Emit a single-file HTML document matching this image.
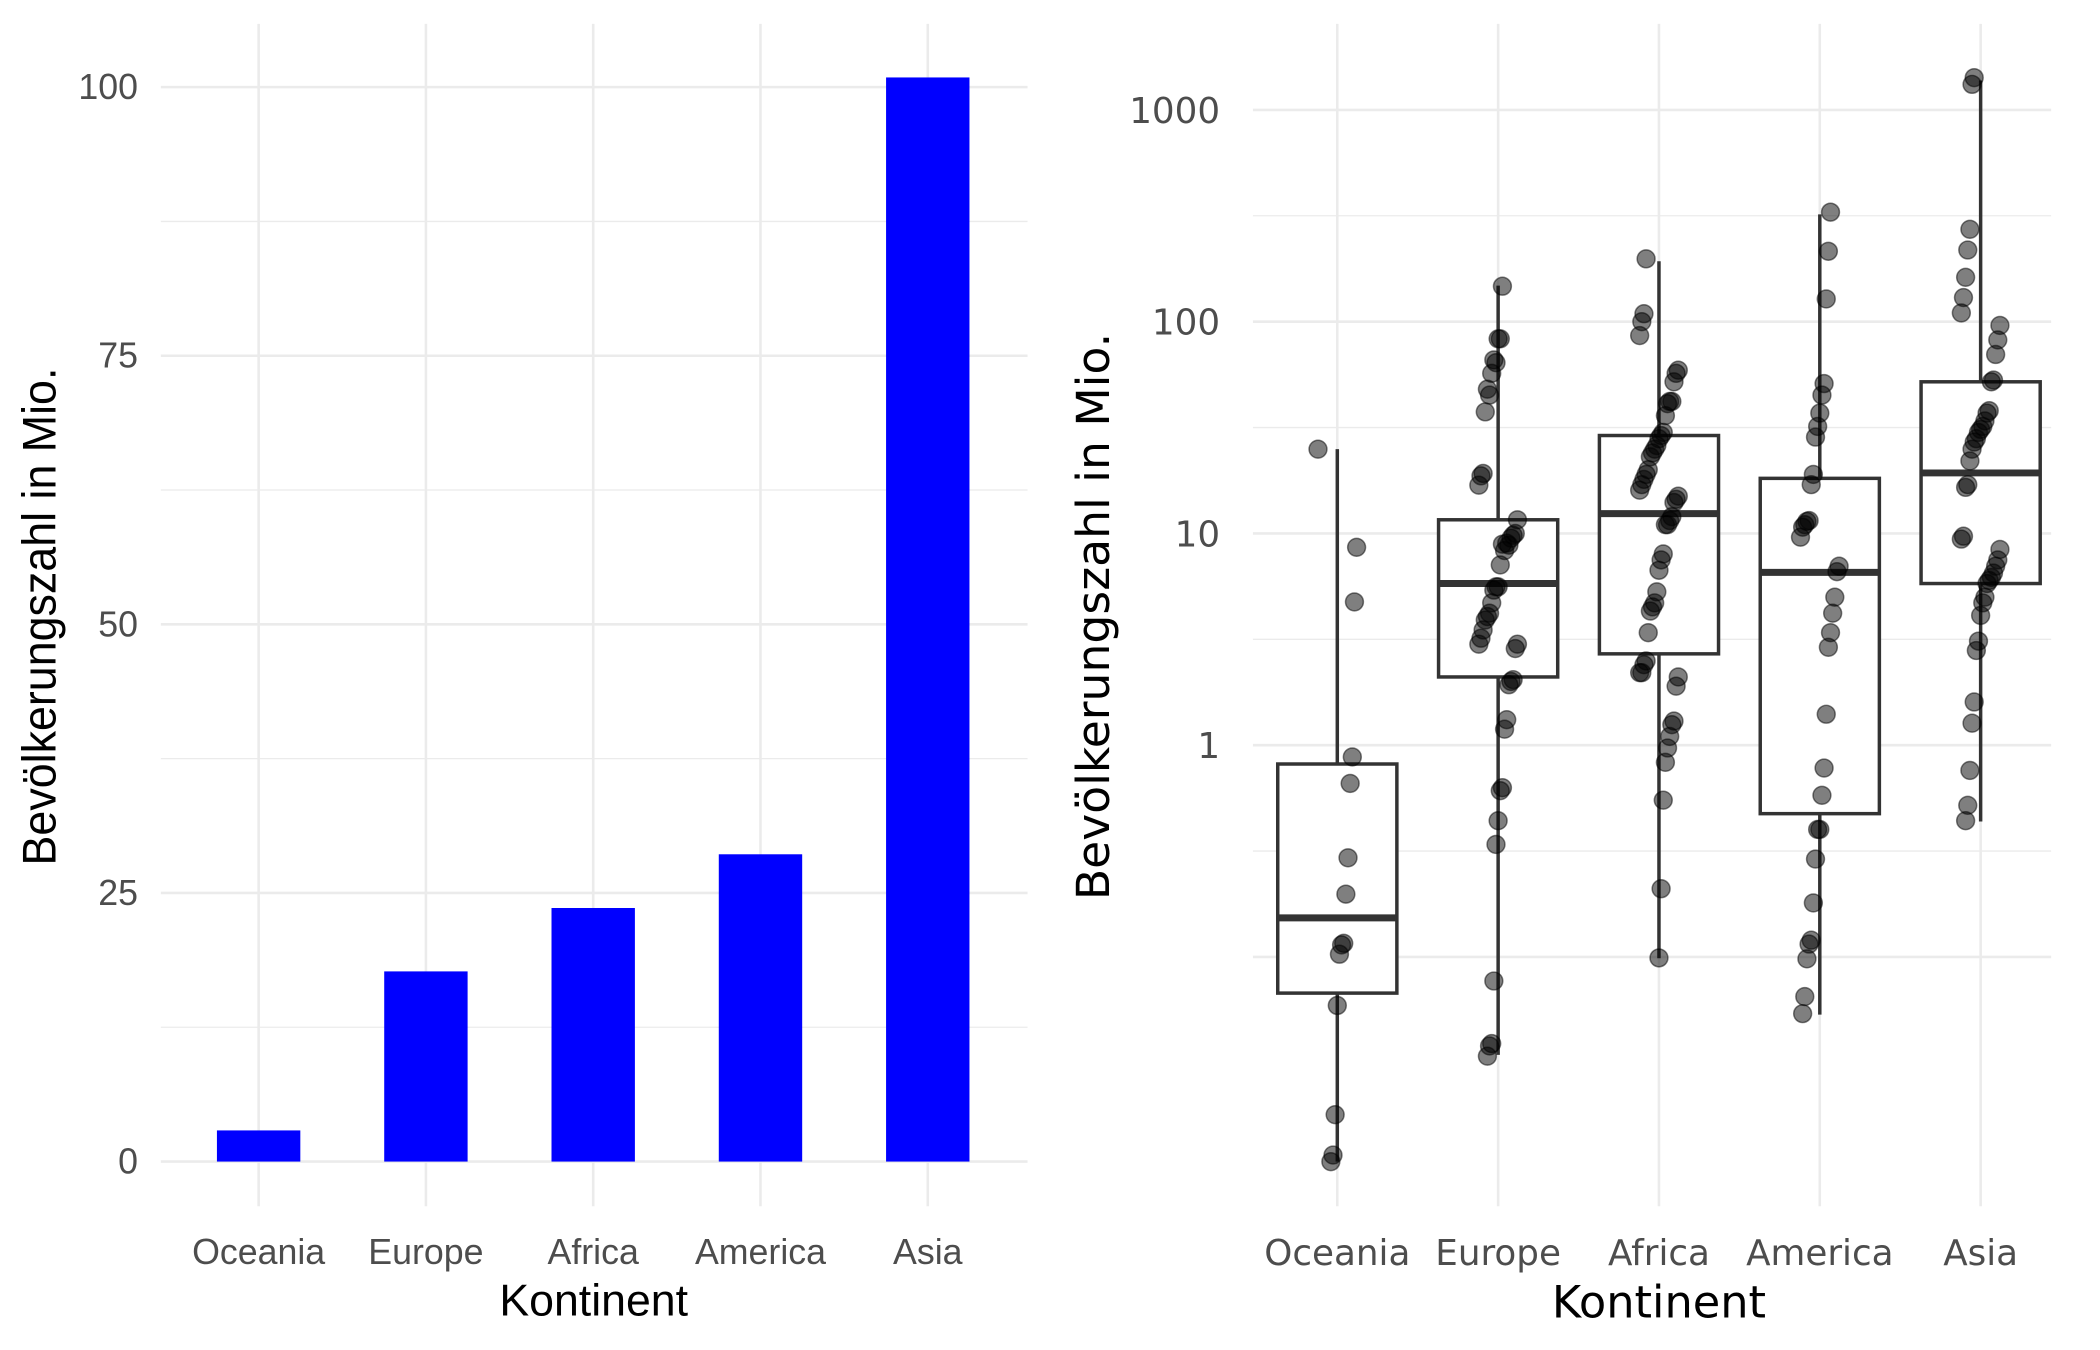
<!DOCTYPE html>
<html><head><meta charset="utf-8"><style>
html,body{margin:0;padding:0;background:#fff;}
svg{display:block;}
</style></head><body>
<svg id="chart" width="2100" height="1350" xmlns="http://www.w3.org/2000/svg"><g id="root" transform="scale(0.9928)"></g></svg>
<script>
const categories = ["Oceania","Europe","Africa","America","Asia"];
const barValues = [2.9, 17.7, 23.6, 28.6, 100.9];
const barTicks = [0,25,50,75,100];
const logTicks = [1,10,100,1000];
const boxStats = [
  {q1:0.0675, med:0.153, q3:0.815, lo:0.0108, hi:25},
  {q1:2.1, med:5.8, q3:11.6, lo:0.0345, hi:148},
  {q1:2.7, med:12.4, q3:29, lo:0.0986, hi:193},
  {q1:0.475, med:6.55, q3:18.2, lo:0.0534, hi:321},
  {q1:5.8, med:19.3, q3:52, lo:0.436, hi:1377}
];
const ptsOceania = [25,8.6,4.75,0.88,0.66,0.294,0.198,0.116,0.114,0.103,0.059,0.018,0.0116,0.0108];
const ptsEurope = [147,83,83,64,66,57,45,48,37.5,19.2,18.7,16.9,11.6,10,9.8,9.5,8.8,9,8.3,8.9,7.1,5.6,5.6,5.4,4.7,4.2,4.05,3.9,3.5,3.2,3.0,3.0,2.86,2.04,2.0,1.93,1.32,1.19,0.63,0.61,0.44,0.34,0.077,0.039,0.038,0.034];
const ptsAfrica = [198,109,100,86,59,57,52,42,42,41,36,30,29,28,26,25,24,23,20,19,18,17,16,15,14.5,14,12,11.5,11,11,8,7.5,6.7,5.3,4.7,4.5,4.3,3.4,2.5,2.4,2.2,2.2,2.1,1.9,1.3,1.25,1.1,0.97,0.83,0.55,0.21,0.099];
const ptsAmerica = [329,215,128,51,45,37,32,28.5,19,17,11.5,11.4,11,10.7,9.6,7,6.6,5,4.2,3.4,2.9,1.4,0.78,0.58,0.4,0.4,0.29,0.18,0.12,0.115,0.098,0.065,0.054];
const ptsAsia = [1420,1320,273,218,162,130,110,96,82,70,53,52,38,37,34,32,31,30,28,27,25,22,17,16.5,9.7,9.4,8.4,7.5,7,6.5,6.2,6,5.8,5,4.7,4.1,3.1,2.8,1.6,1.27,0.76,0.52,0.44];
const points = [ptsOceania, ptsEurope, ptsAfrica, ptsAmerica, ptsAsia];

const NS="http://www.w3.org/2000/svg";
const svg=document.getElementById('root');
function mk(tag,attrs,parent){const e=document.createElementNS(NS,tag);for(const k in attrs)e.setAttribute(k,attrs[k]);(parent||svg).appendChild(e);return e;}

// ---------- Left bar chart ----------
const L={x0:162,x1:1035,top:24,bottom:1215};
const yBar=v=>1170-(1170-87.75)*v/100;
const xBar=i=>260.5+i*168.5;
const gL=mk('g',{});


for(let k=0;k<barTicks.length;k++){
  const v=barTicks[k];
  const l=mk('line',{x1:L.x0,x2:L.x1,y1:yBar(v),y2:yBar(v),stroke:'#ebebeb','stroke-width':2.6},gL);
  
  if(k<barTicks.length-1){const m=(v+barTicks[k+1])/2;
    const ml=mk('line',{x1:L.x0,x2:L.x1,y1:yBar(m),y2:yBar(m),stroke:'#ebebeb','stroke-width':1.3},gL);
    }
  const t=mk('text',{x:139,y:yBar(v)+12,'text-anchor':'end','font-size':36,fill:'#4d4d4d','font-family':'Liberation Sans, sans-serif'},gL);
  t.textContent=v;
  
}
categories.forEach((c,i)=>{
  const l=mk('line',{x1:xBar(i),x2:xBar(i),y1:L.top,y2:L.bottom,stroke:'#ebebeb','stroke-width':2.6},gL);
  
});
categories.forEach((c,i)=>{
  const r=mk('rect',{x:xBar(i)-42,y:yBar(barValues[i]),width:84,height:yBar(0)-yBar(barValues[i]),fill:'#0000ff'},gL);
  
  const t=mk('text',{x:xBar(i),y:1273,'text-anchor':'middle','font-size':36,fill:'#4d4d4d','font-family':'Liberation Sans, sans-serif'},gL);
  t.textContent=c;
});
let t1=mk('text',{x:598,y:1325,'text-anchor':'middle','font-size':45,fill:'#000','font-family':'Liberation Sans, sans-serif'},gL);
t1.textContent='Kontinent';
let t2=mk('text',{x:0,y:0,'text-anchor':'middle','font-size':48,fill:'#000','font-family':'Liberation Sans, sans-serif',transform:'translate(56,621) rotate(-90) scale(0.94,1)'},gL);
t2.textContent='Bevölkerungszahl in Mio.';

// ---------- Right box plot ----------
const R={x0:1262,x1:2066,top:24,bottom:1215};
const yLog=v=>750.6-213.3*Math.log10(v);
const xBox=i=>1347+i*162;
const gR=mk('g',{});


for(let k=-1;k<=3;k++){
  const y=yLog(Math.pow(10,k));
  const l=mk('line',{x1:R.x0,x2:R.x1,y1:y,y2:y,stroke:'#ebebeb','stroke-width':2.6},gR);
  
  if(k<3){const ym=yLog(Math.pow(10,k+0.5));
    const m=mk('line',{x1:R.x0,x2:R.x1,y1:ym,y2:ym,stroke:'#ebebeb','stroke-width':1.3},gR);
    }
}
logTicks.forEach(v=>{
  const t=mk('text',{x:1229,y:yLog(v)+13,'text-anchor':'end','font-size':36,fill:'#4d4d4d','font-family':'DejaVu Sans, sans-serif'},gR);
  t.textContent=v;
});
categories.forEach((c,i)=>{
  const l=mk('line',{x1:xBox(i),x2:xBox(i),y1:R.top,y2:R.bottom,stroke:'#ebebeb','stroke-width':2.6},gR);
  
});
categories.forEach((c,i)=>{
  const s=boxStats[i],x=xBox(i),hw=60;
  const g=mk('g',{},gR);
  
  mk('line',{x1:x,x2:x,y1:yLog(s.hi),y2:yLog(s.q3),stroke:'#333','stroke-width':3.5},g);
  mk('line',{x1:x,x2:x,y1:yLog(s.q1),y2:yLog(s.lo),stroke:'#333','stroke-width':3.5},g);
  mk('rect',{x:x-hw,y:yLog(s.q3),width:2*hw,height:yLog(s.q1)-yLog(s.q3),fill:'#fff',stroke:'#333','stroke-width':3.5},g);
  mk('line',{x1:x-hw,x2:x+hw,y1:yLog(s.med),y2:yLog(s.med),stroke:'#333','stroke-width':7},g);
});
categories.forEach((c,i)=>{
  points[i].forEach((v,j)=>{
    const jit=(((j*37+i*11)%19)-9)/9*0.12*162;
    const p=mk('circle',{cx:xBox(i)+jit,cy:yLog(v),r:9,fill:'rgba(0,0,0,0.5)',stroke:'rgba(0,0,0,0.5)','stroke-width':1.5},gR);
    
    
  });
  const t=mk('text',{x:xBox(i),y:1274,'text-anchor':'middle','font-size':36,fill:'#4d4d4d','font-family':'DejaVu Sans, sans-serif'},gR);
  t.textContent=c;
});
let t3=mk('text',{x:1671,y:1327,'text-anchor':'middle','font-size':45,fill:'#000','font-family':'DejaVu Sans, sans-serif'},gR);
t3.textContent='Kontinent';
let t4=mk('text',{x:0,y:0,'text-anchor':'middle','font-size':46,fill:'#000','font-family':'DejaVu Sans, sans-serif',transform:'translate(1117,621) rotate(-90)'},gR);
t4.textContent='Bevölkerungszahl in Mio.';
</script>
</body></html>
